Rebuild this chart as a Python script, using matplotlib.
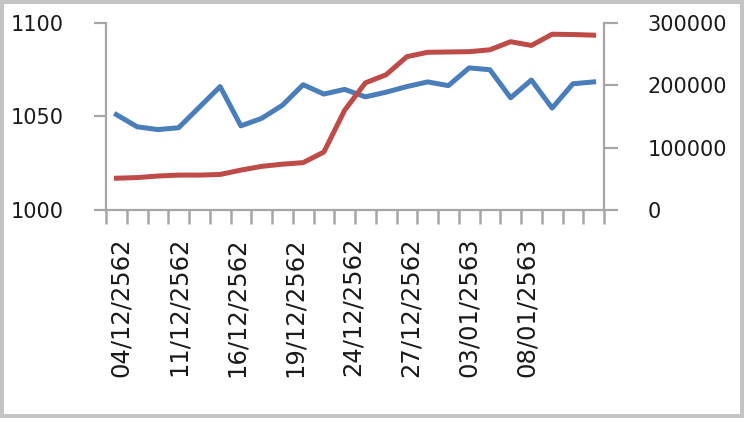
"""
Two-axis line chart: index level (left axis, blue) and volume (right axis, red).
"""

import numpy as np
import matplotlib
matplotlib.use('Agg')
import matplotlib.pyplot as plt
from matplotlib.patches import Rectangle


# values (24 trading days)
index_values = [1051, 1044.5, 1043, 1044, 1055, 1066, 1045, 1049, 1056, 1067, 1062, 1064.5,
                1060.5, 1063, 1066, 1068.5, 1066.5, 1076, 1075, 1060, 1069.5, 1054.5, 1067.5, 1068.5]
volume_values = [51000, 52000, 54500, 56000, 56000, 57000, 64000, 70000, 73500, 76000, 93000, 160000,
                 204000, 217000, 246000, 253000, 253500, 254000, 257000, 270000, 264000, 282000, 281500, 280500]

# labels shown on the x axis
date_labels = ['04/12/2562', '11/12/2562', '16/12/2562', '19/12/2562',
               '24/12/2562', '27/12/2562', '03/01/2563', '08/01/2563']

left_ticks = [1000, 1050, 1100]
right_ticks = [0, 100000, 200000, 300000]


if __name__ == '__main__':

    axis_grey = '#a6a6a6'
    text_col = '#1a1a1a'

    fig = plt.figure(figsize=(7.5, 4.22), dpi=100)
    ax = fig.add_axes([106 / 750, 1 - 210 / 422, 498 / 750, 187 / 422])
    ax2 = ax.twinx()

    x = np.arange(len(index_values))

    # lines
    ax.plot(x, index_values, color='#4a7ebb', lw=3.6, solid_joinstyle='round', zorder=3)
    ax2.plot(x, volume_values, color='#be4b48', lw=3.6, solid_joinstyle='round', zorder=3)

    # axis ranges
    ax.set_xlim(-0.5, len(index_values) - 0.5)
    ax.set_ylim(1000, 1100)
    ax2.set_ylim(0, 300000)

    # spines
    for a in (ax, ax2):
        for side in ('top',):
            a.spines[side].set_visible(False)
        for side in ('left', 'right', 'bottom'):
            a.spines[side].set_color(axis_grey)
            a.spines[side].set_linewidth(1.6)
    ax.spines['right'].set_visible(False)
    ax2.spines['left'].set_visible(False)
    ax2.spines['bottom'].set_visible(False)

    # x ticks: minor marks at category boundaries, labels without marks
    ax.set_xticks(np.arange(-0.5, len(index_values), 1), minor=True)
    ax.tick_params(axis='x', which='minor', direction='out', length=10, width=1.8, color=axis_grey)
    label_pos = np.arange(len(date_labels)) * 2.8 + 0.2
    ax.set_xticks(label_pos)
    ax.set_xticklabels(date_labels, rotation=90, fontsize=17.5, color=text_col)
    ax.tick_params(axis='x', which='major', length=0, pad=19.5)

    # y ticks
    ax.set_yticks(left_ticks)
    ax.set_yticklabels([str(v) for v in left_ticks], fontsize=15, color=text_col)
    ax.tick_params(axis='y', direction='out', length=8.6, width=1.6, color=axis_grey, pad=22)

    ax2.set_yticks(right_ticks)
    ax2.set_yticklabels([str(v) for v in right_ticks], fontsize=15, color=text_col)
    ax2.tick_params(axis='y', direction='out', length=10, width=1.6, color=axis_grey, pad=21.5)

    # grey frame round the whole picture
    fig.add_artist(Rectangle((2 / 750, 1 - 416 / 422), 740 / 750, 414 / 422,
                             transform=fig.transFigure, fill=False,
                             edgecolor='#c4c4c4', lw=2.9))

    fig.savefig('out.png', dpi=100)
